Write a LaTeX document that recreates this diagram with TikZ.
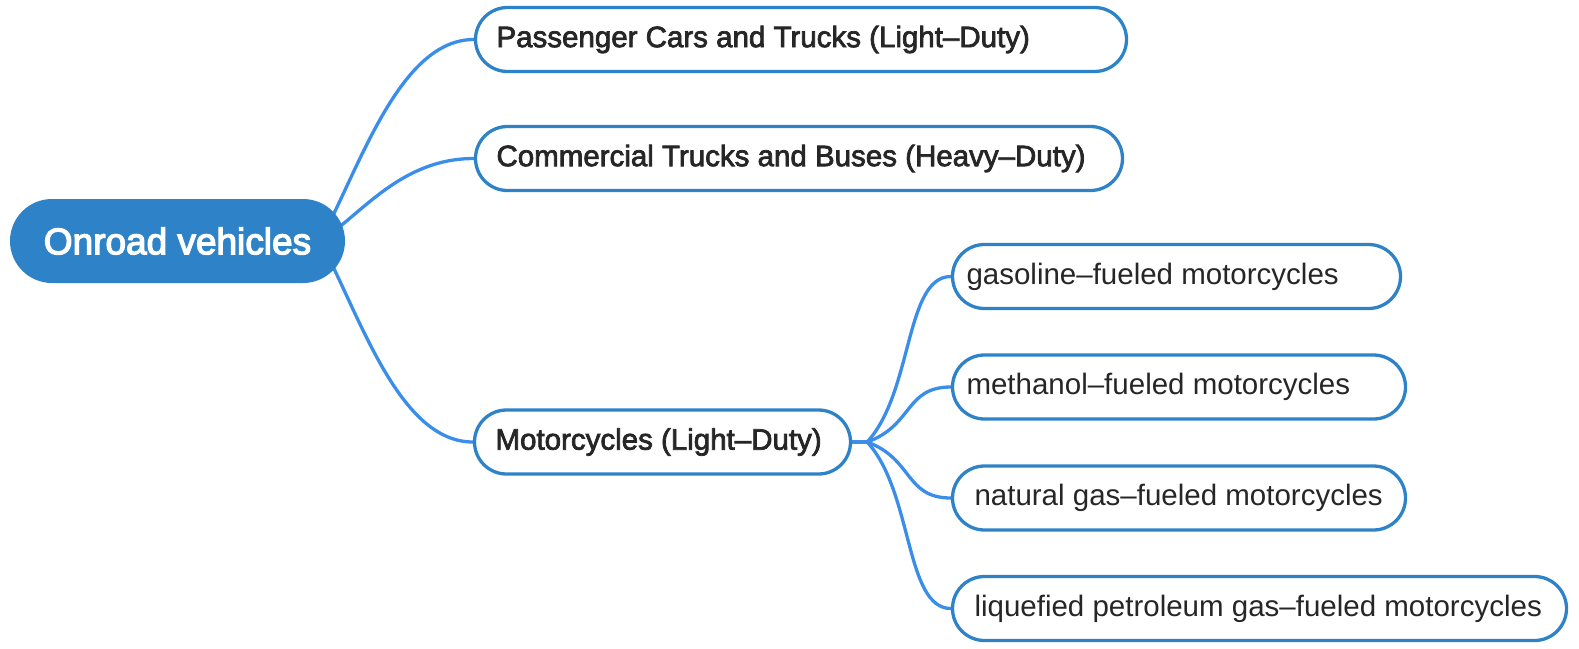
\documentclass[tikz,border=0pt]{standalone}
\usepackage{fontspec}
\setmainfont{Liberation Sans}
\newfontfamily\medfont{Liberation Sans}[FakeBold=2.5]
\newfontfamily\rootfont{Liberation Sans}[FakeBold=3.5]
\usetikzlibrary{backgrounds,calc}
\definecolor{boxblue}{HTML}{2E83C8}
\definecolor{linkblue}{HTML}{3A8EEA}
\definecolor{txtgray}{HTML}{262626}
\newcommand{\fixw}[2]{\makebox[#1][l]{#2}}
\begin{document}
\begin{tikzpicture}[x=1pt,y=-1pt,
  lvl/.style={draw=boxblue, line width=3.3pt, rounded corners=32pt, fill=white, minimum height=64pt, inner ysep=0pt, text=txtgray},
  lvlone/.style={lvl, font=\medfont\fontsize{29.5pt}{35pt}\selectfont, inner xsep=21pt},
  lvltwo/.style={lvl, font=\fontsize{29.5pt}{35pt}\selectfont},
  rootbox/.style={fill=boxblue, rounded corners=42pt, minimum width=335pt, minimum height=84pt, inner sep=0pt, text=white, font=\rootfont\fontsize{37pt}{44pt}\selectfont},
  link/.style={draw=linkblue, line width=3.3pt, line cap=round}]
\useasboundingbox (0,0) rectangle (1579,648);

\node[rootbox] (root) at (177.5,241) {Onroad vehicles};

\node[lvlone] (pass) at (801,39.5) {\fixw{609pt}{Passenger Cars and Trucks (Light–Duty)}};
\node[lvlone] (comm) at (799,158.5) {\fixw{605pt}{Commercial Trucks and Buses (Heavy–Duty)}};
\node[lvlone] (moto) at (662.5,442) {\fixw{334pt}{Motorcycles (Light–Duty)}};

\node[lvltwo, inner xsep=14pt] (gas) at (1176.5,276.5) {\fixw{420pt}{gasoline–fueled motorcycles}};
\node[lvltwo, inner xsep=14pt] (meth) at (1179,387) {\fixw{425pt}{methanol–fueled motorcycles}};
\node[lvltwo, inner xsep=22pt] (natg) at (1179,498) {\fixw{409pt}{natural gas–fueled motorcycles}};
\node[lvltwo, inner xsep=22pt] (lpg) at (1259.5,608.5) {\fixw{570pt}{liquefied petroleum gas–fueled motorcycles}};

\coordinate (rootout) at ($(root.east)+(-25,0)$);
\coordinate (fork) at ($(moto.east)+(15,0)$);

\begin{scope}[on background layer]
\draw[link] (rootout) .. controls +(40,-75) and +(-74,0) .. (pass.west);
\draw[link] (rootout) .. controls +(40,-25) and +(-74,0) .. (comm.west);
\draw[link] (rootout) .. controls +(40,75) and +(-74,0) .. (moto.west);
\draw[link] (moto.east) -- (fork) .. controls +(46,-50) and +(-46,0) .. (gas.west);
\draw[link] (moto.east) -- (fork) .. controls +(46,-16.5) and +(-46,0) .. (meth.west);
\draw[link] (moto.east) -- (fork) .. controls +(46,16.8) and +(-46,0) .. (natg.west);
\draw[link] (moto.east) -- (fork) .. controls +(46,50) and +(-46,0) .. (lpg.west);
\end{scope}
\end{tikzpicture}
\end{document}
